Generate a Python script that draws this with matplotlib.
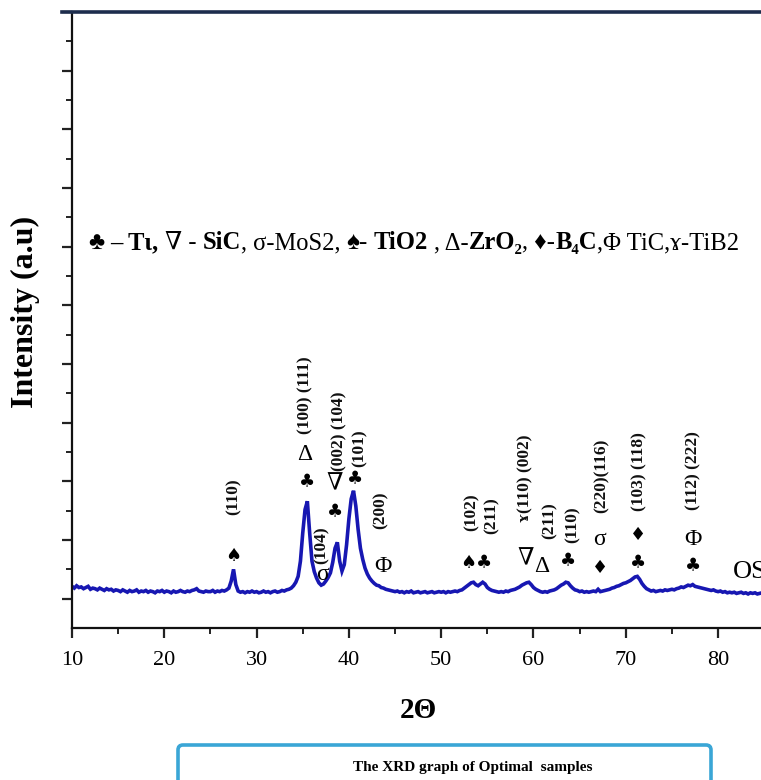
import numpy as np
import matplotlib
matplotlib.use("Agg")
import matplotlib.pyplot as plt
from matplotlib.patches import FancyBboxPatch
from matplotlib.lines import Line2D
from matplotlib.transforms import IdentityTransform

# ---------------- data ----------------
two_theta = np.arange(10.0, 85.0, 0.25)
intensity = [
    21, 18, 22, 19, 20, 17, 19, 21, 16, 18, 17, 15, 18, 16, 14, 17, 15, 16, 13, 15,
    14, 12, 15, 13, 11, 14, 12, 13, 15, 11, 13, 12, 14, 11, 13, 12, 10, 13, 12, 14,
    11, 13, 12, 10, 13, 11, 12, 14, 12, 11, 13, 12, 14, 15, 17, 13, 12, 11, 13, 12,
    12, 14, 11, 13, 12, 14, 13, 15, 18, 30, 50, 24, 13, 11, 12, 10, 12, 11, 13, 11,
    12, 10, 11, 13, 11, 12, 10, 12, 13, 11, 12, 14, 13, 15, 16, 18, 22, 28, 38, 64,
    112, 152, 166, 112, 64, 46, 35, 27, 23, 25, 30, 36, 44, 62, 86, 96, 64, 47, 58, 92,
    136, 170, 184, 158, 118, 86, 67, 52, 42, 35, 30, 26, 23, 22, 19, 18, 16, 15, 14, 13,
    12, 13, 11, 12, 10, 12, 11, 13, 10, 11, 12, 10, 11, 12, 10, 11, 12, 10, 11, 12,
    11, 12, 10, 12, 11, 12, 13, 12, 14, 15, 18, 21, 24, 27, 28, 24, 22, 25, 28, 25,
    19, 16, 14, 13, 12, 11, 12, 11, 13, 12, 14, 15, 16, 18, 20, 23, 25, 27, 28, 24,
    19, 16, 14, 12, 11, 12, 11, 13, 14, 15, 17, 20, 23, 25, 28, 27, 22, 18, 15, 14,
    12, 13, 11, 12, 11, 12, 13, 12, 16, 12, 13, 14, 15, 16, 18, 19, 21, 22, 24, 26,
    27, 29, 31, 34, 37, 38, 33, 26, 21, 17, 15, 13, 14, 12, 13, 14, 13, 15, 14, 15,
    16, 15, 17, 18, 20, 19, 21, 23, 22, 24, 21, 20, 19, 18, 17, 16, 15, 14, 15, 13,
    12, 13, 11, 12, 10, 11, 10, 11, 9, 10, 11, 9, 10, 8, 10, 9, 10, 8, 9, 10,
]

x_ticks = [10, 20, 30, 40, 50, 60, 70, 80]

# phase markers above peaks: (symbol, 2theta, height)
suit_marks = [
    ("♠", 27.45, 72), ("♣", 35.45, 198), ("♣", 38.5, 148), ("♣", 40.65, 203),
    ("♠", 52.95, 61), ("♣", 54.65, 61), ("♣", 63.7, 63), ("♦", 67.2, 53),
    ("♦", 71.3, 109), ("♣", 71.3, 61), ("♣", 77.3, 55),
]
greek_marks = [
    ("Δ", 35.25, 245), ("∇", 38.5, 194), ("σ", 37.1, 41), ("Φ", 43.7, 55),
    ("∇", 59.1, 66), ("Δ", 60.9, 55), ("σ", 67.2, 101), ("Φ", 77.3, 101),
]
miller_labels = [
    ("(110)", 27.5, 174), ("(100) (111)", 35.24, 346), ("(002) (104)", 39.0, 285),
    ("(104)", 37.1, 92), ("(101)", 41.2, 257), ("(200)", 43.4, 150),
    ("(102)", 53.3, 147), ("(211)", 55.5, 141), ("ɤ(110) (002)", 59.1, 206),
    ("(211)", 61.8, 133), ("(110)", 64.2, 126), ("(220)(116)", 67.4, 210),
    ("(103) (118)", 71.5, 216), ("(112) (222)", 77.3, 218),
]
legend_runs = [  # (text, bold, space after)
    ("♣", False, True), ("– Tι,", True, True), ("∇ -", False, True),
    ("SiC", True, False), (", σ-MoS2,", False, True), ("♠-", False, True),
    ("TiO2", True, True), (", Δ-", False, False), ("ZrO₂", True, False),
    (", ♦-", False, False), ("B₄C", True, False), (",Φ TiC,ɤ-TiB2", False, False),
]

SERIF = ["Liberation Serif", "DejaVu Serif", "DejaVu Sans"]
SYM = ["DejaVu Sans"]

W, H = 761, 780
fig = plt.figure(figsize=(W / 100, H / 100), dpi=100)
fig.patch.set_facecolor("white")
ax = fig.add_axes([72 / W, (H - 628) / H, (W - 72) / W, (628 - 12) / H])

ax.plot(two_theta, intensity, color="#1717b2", lw=2.6, solid_joinstyle="miter")
ax.set_xlim(10, 84.65)
ax.set_ylim(-50, 1000)

ax.set_xticks(x_ticks)
ax.set_xticks(np.arange(15, 85, 10), minor=True)
ax.set_yticks(np.arange(0, 1001, 100))
ax.set_yticks(np.arange(50, 1000, 100), minor=True)
ax.set_yticklabels([])
ax.tick_params(axis="both", which="major", direction="out", length=7.5, width=1.6, color="#222222")
ax.tick_params(axis="both", which="minor", direction="out", length=4, width=1.4, color="#222222")
ax.tick_params(axis="x", which="major", pad=9, labelsize=16)
for lab in ax.get_xticklabels():
    lab.set_family(SERIF)
for s in ["top", "right"]:
    ax.spines[s].set_visible(False)
for s in ["left", "bottom"]:
    ax.spines[s].set_linewidth(1.6)
    ax.spines[s].set_color("#111111")

# top border line
fig.add_artist(Line2D([62 / W, 1.0], [(H - 12) / H, (H - 12) / H],
                      transform=fig.transFigure, color="#1d2d4d", lw=2.6))

# markers / labels
for s, x, y in suit_marks:
    ax.text(x, y, s, family=SYM, fontsize=13, ha="center", va="center", color="black")
for s, x, y in greek_marks:
    ax.text(x, y, s, family=SERIF, fontsize=17, ha="center", va="center", color="black")
for s, x, y in miller_labels:
    ax.text(x, y, s, family=SERIF, fontsize=12.5, fontweight="bold", rotation=90,
            ha="center", va="center", color="#111111")
ax.text(81.6, 46, "OS", family=SERIF, fontsize=19, ha="left", va="center", clip_on=False)

# axis titles
fig.text(25 / W, (H - 312) / H, "Intensity (a.u)", family=SERIF, fontsize=23,
         fontweight="bold", rotation=90, ha="center", va="center")
fig.text(418 / W, (H - 711) / H, "2Θ", family=SERIF, fontsize=21, fontweight="bold",
         ha="center", va="center")

# legend line built from runs
renderer = fig.canvas.get_renderer()


def run_width(s, bold, size):
    kw = dict(family=SERIF, fontsize=size, fontweight="bold" if bold else "normal")
    t1 = fig.text(0, 0, "|" + s + "|", **kw)
    t2 = fig.text(0, 0, "||", **kw)
    w = t1.get_window_extent(renderer).width - t2.get_window_extent(renderer).width
    t1.remove()
    t2.remove()
    return w


def total_width(size):
    sp = run_width(" ", False, size)
    tot = 0
    for s, b, gap in legend_runs:
        tot += run_width(s, b, size) + (sp if gap else 0)
    return tot


base = 14.0
size = base * 658 / total_width(base)
sp = run_width(" ", False, size)
xpos = 88.0
ybase = (H - 249) / H
for s, b, gap in legend_runs:
    fig.text(xpos / W, ybase, s, family=SERIF, fontsize=size,
             fontweight="bold" if b else "normal", ha="left", va="baseline")
    xpos += run_width(s, b, size) + (sp if gap else 0)

# caption box
box = FancyBboxPatch((178, -6), 533, 41, boxstyle="round,pad=0,rounding_size=5",
                     transform=IdentityTransform(), facecolor="white",
                     edgecolor="#3aa6d6", lw=2.6)
fig.add_artist(box)
fig.text(473 / W, (H - 767) / H, "The XRD graph of Optimal  samples", family=SERIF,
         fontsize=11, fontweight="bold", ha="center", va="center")

fig.savefig("out.png", dpi=100, facecolor="white")
